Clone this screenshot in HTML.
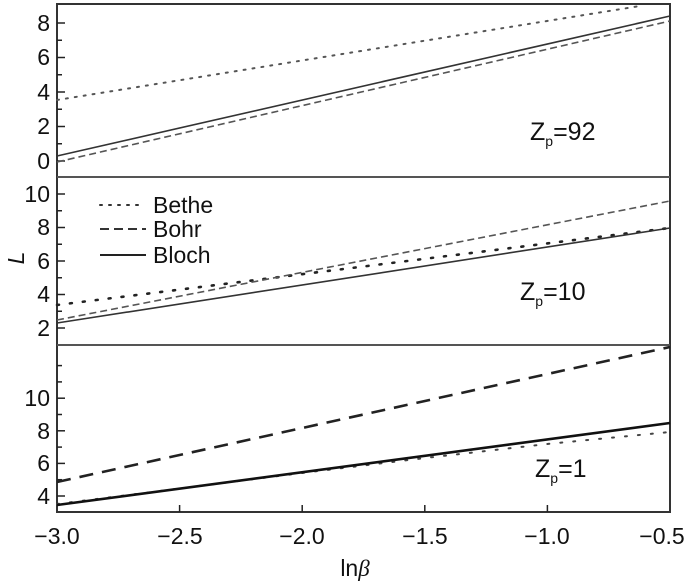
<!DOCTYPE html>
<html><head><meta charset="utf-8"><style>
html,body{margin:0;padding:0;background:#fff;}
svg{display:block;font-family:"Liberation Sans",sans-serif;}
</style></head><body>
<svg width="700" height="583" viewBox="0 0 700 583" xmlns="http://www.w3.org/2000/svg">
<g fill="none" stroke="#222">
<rect x="57" y="4" width="613" height="508" stroke-width="2" stroke="#333"/>
<line x1="57" y1="177" x2="670" y2="177" stroke-width="2" stroke="#555"/>
<line x1="57" y1="345" x2="670" y2="345" stroke-width="2" stroke="#555"/>
<g stroke-width="1.5">
<line x1="57" y1="161" x2="65" y2="161"/><line x1="57" y1="126.5" x2="65" y2="126.5"/><line x1="57" y1="92" x2="65" y2="92"/><line x1="57" y1="57.5" x2="65" y2="57.5"/><line x1="57" y1="23" x2="65" y2="23"/>
<line x1="57" y1="143.75" x2="62" y2="143.75"/><line x1="57" y1="109.25" x2="62" y2="109.25"/><line x1="57" y1="74.75" x2="62" y2="74.75"/><line x1="57" y1="40.25" x2="62" y2="40.25"/>
<line x1="57" y1="328" x2="65" y2="328"/><line x1="57" y1="294.5" x2="65" y2="294.5"/><line x1="57" y1="261" x2="65" y2="261"/><line x1="57" y1="227.5" x2="65" y2="227.5"/><line x1="57" y1="194" x2="65" y2="194"/>
<line x1="57" y1="311.25" x2="62" y2="311.25"/><line x1="57" y1="277.75" x2="62" y2="277.75"/><line x1="57" y1="244.25" x2="62" y2="244.25"/><line x1="57" y1="210.75" x2="62" y2="210.75"/>
<line x1="57" y1="496" x2="65" y2="496"/><line x1="57" y1="463.4" x2="65" y2="463.4"/><line x1="57" y1="430.8" x2="65" y2="430.8"/><line x1="57" y1="398.2" x2="65" y2="398.2"/>
<line x1="57" y1="479.7" x2="62" y2="479.7"/><line x1="57" y1="447.1" x2="62" y2="447.1"/><line x1="57" y1="414.5" x2="62" y2="414.5"/><line x1="57" y1="381.9" x2="62" y2="381.9"/><line x1="57" y1="365.6" x2="62" y2="365.6"/>
<line x1="179.6" y1="512" x2="179.6" y2="505"/><line x1="302.2" y1="512" x2="302.2" y2="505"/><line x1="424.8" y1="512" x2="424.8" y2="505"/><line x1="547.4" y1="512" x2="547.4" y2="505"/>
</g>
<!-- top panel -->
<line x1="57" y1="100" x2="640" y2="6" stroke="#555" stroke-width="2" stroke-dasharray="2 7" stroke-linecap="round"/>
<line x1="57" y1="156" x2="670" y2="16" stroke="#333" stroke-width="1.6"/>
<line x1="57" y1="162" x2="670" y2="21" stroke="#555" stroke-width="1.6" stroke-dasharray="7 4"/>
<!-- middle panel -->
<line x1="57" y1="305" x2="670" y2="228" stroke="#222" stroke-width="2.6" stroke-dasharray="2 11" stroke-linecap="round"/>
<line x1="57" y1="320" x2="670" y2="201" stroke="#555" stroke-width="1.6" stroke-dasharray="7 4"/>
<line x1="57" y1="323" x2="670" y2="228" stroke="#333" stroke-width="1.6"/>
<!-- bottom panel -->
<line x1="57" y1="482" x2="670" y2="347" stroke="#222" stroke-width="2.6" stroke-dasharray="14 9"/>
<polyline points="57,504 302,473 425,458 547,444 670,432" stroke="#444" stroke-width="2" stroke-dasharray="2 11" stroke-linecap="round"/>
<line x1="57" y1="505" x2="670" y2="423" stroke="#111" stroke-width="2.6"/>
<!-- legend -->
<line x1="100" y1="205" x2="144" y2="205" stroke="#333" stroke-width="2" stroke-dasharray="2 7" stroke-linecap="round"/>
<line x1="100" y1="229" x2="146" y2="229" stroke="#333" stroke-width="2" stroke-dasharray="9 5"/>
<line x1="100" y1="255" x2="146" y2="255" stroke="#222" stroke-width="2"/>
</g>
<g font-size="23" fill="#111">
<text x="153" y="213">Bethe</text>
<text x="153" y="237">Bohr</text>
<text x="153" y="263">Bloch</text>
<g text-anchor="end">
<text x="50" y="169">0</text><text x="50" y="134">2</text><text x="50" y="100">4</text><text x="50" y="65">6</text><text x="50" y="31">8</text>
<text x="50" y="336">2</text><text x="50" y="302">4</text><text x="50" y="269">6</text><text x="50" y="235">8</text><text x="50" y="202">10</text>
<text x="50" y="504">4</text><text x="50" y="471">6</text><text x="50" y="439">8</text><text x="50" y="406">10</text>
</g>
<g text-anchor="middle">
<text x="57" y="544">−3.0</text><text x="180" y="544">−2.5</text><text x="302" y="544">−2.0</text><text x="425" y="544">−1.5</text><text x="547" y="544">−1.0</text><text x="662" y="544">−0.5</text>
</g>
<text x="355" y="576" text-anchor="middle">ln<tspan font-family="Liberation Serif,serif" font-style="italic">β</tspan></text>
<text transform="translate(24,258) rotate(-90)" text-anchor="middle" font-style="italic">L</text>
</g>
<g font-size="25" fill="#111">
<text x="530" y="140">Z<tspan font-size="14" dy="6">p</tspan><tspan dy="-6">=92</tspan></text>
<text x="520" y="300">Z<tspan font-size="14" dy="6">p</tspan><tspan dy="-6">=10</tspan></text>
<text x="535" y="477">Z<tspan font-size="14" dy="6">p</tspan><tspan dy="-6">=1</tspan></text>
</g>
</svg>
</body></html>
